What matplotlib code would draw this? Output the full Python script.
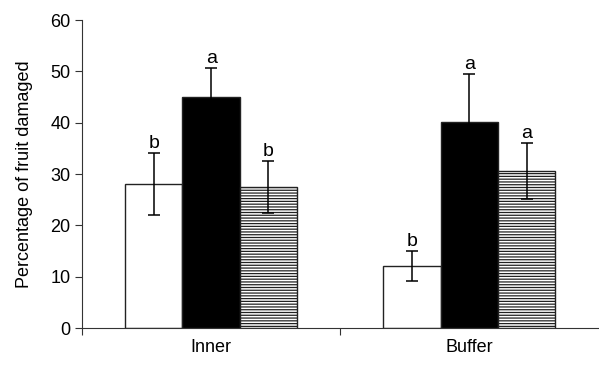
import numpy as np
import matplotlib.pyplot as plt

plt.rcParams['font.family'] = ['Liberation Sans', 'DejaVu Sans']
plt.rcParams['hatch.linewidth'] = 0.9

groups = ['Inner', 'Buffer']
open_vals = [28.1, 12.1]
open_err = [6.1, 3.0]
black_vals = [45.0, 40.2]
black_err = [5.6, 9.2]
hatch_vals = [27.5, 30.6]
hatch_err = [5.0, 5.5]
letters = [['b', 'a', 'b'], ['b', 'a', 'a']]

fig = plt.figure(figsize=(5.99, 3.65), dpi=100)
ax = fig.add_axes([0.137, 0.101, 0.862, 0.844])

x = np.arange(len(groups))
w = 0.222
series = [(open_vals, open_err, 'white', ''), (black_vals, black_err, 'black', ''),
          (hatch_vals, hatch_err, 'white', '------')]
for i, (vals, errs, col, hatch) in enumerate(series):
    pos = x + (i - 1) * w
    ax.bar(pos, vals, w, color=col, edgecolor='#222222', linewidth=1.0, hatch=hatch, zorder=2)
    ax.errorbar(pos, vals, yerr=errs, fmt='none', ecolor='black', elinewidth=1.1,
                capsize=4, capthick=1.1, zorder=3)
    for j in range(len(groups)):
        ax.text(pos[j], vals[j] + errs[j] + 0.2, letters[j][i], ha='center', va='bottom', fontsize=14)

ax.set_xlim(-0.5, 1.5)
ax.set_ylim(0, 60)
ax.set_yticks(range(0, 61, 10))
ax.set_xticks([-0.5, 0.5])
ax.set_xticklabels([])
ax.set_xticks(x, minor=True)
ax.set_xticklabels(groups, minor=True)
ax.tick_params(axis='x', which='minor', length=0, labelsize=13, pad=8)
ax.tick_params(axis='x', which='major', length=5, direction='out', color='#333333')
ax.tick_params(axis='y', length=5, labelsize=13, color='#333333')
for s in ['top', 'right']:
    ax.spines[s].set_visible(False)
for s in ['left', 'bottom']:
    ax.spines[s].set_color('#333333')
ax.set_ylabel('Percentage of fruit damaged', fontsize=13, labelpad=12)

fig.savefig('out.png', dpi=100)
